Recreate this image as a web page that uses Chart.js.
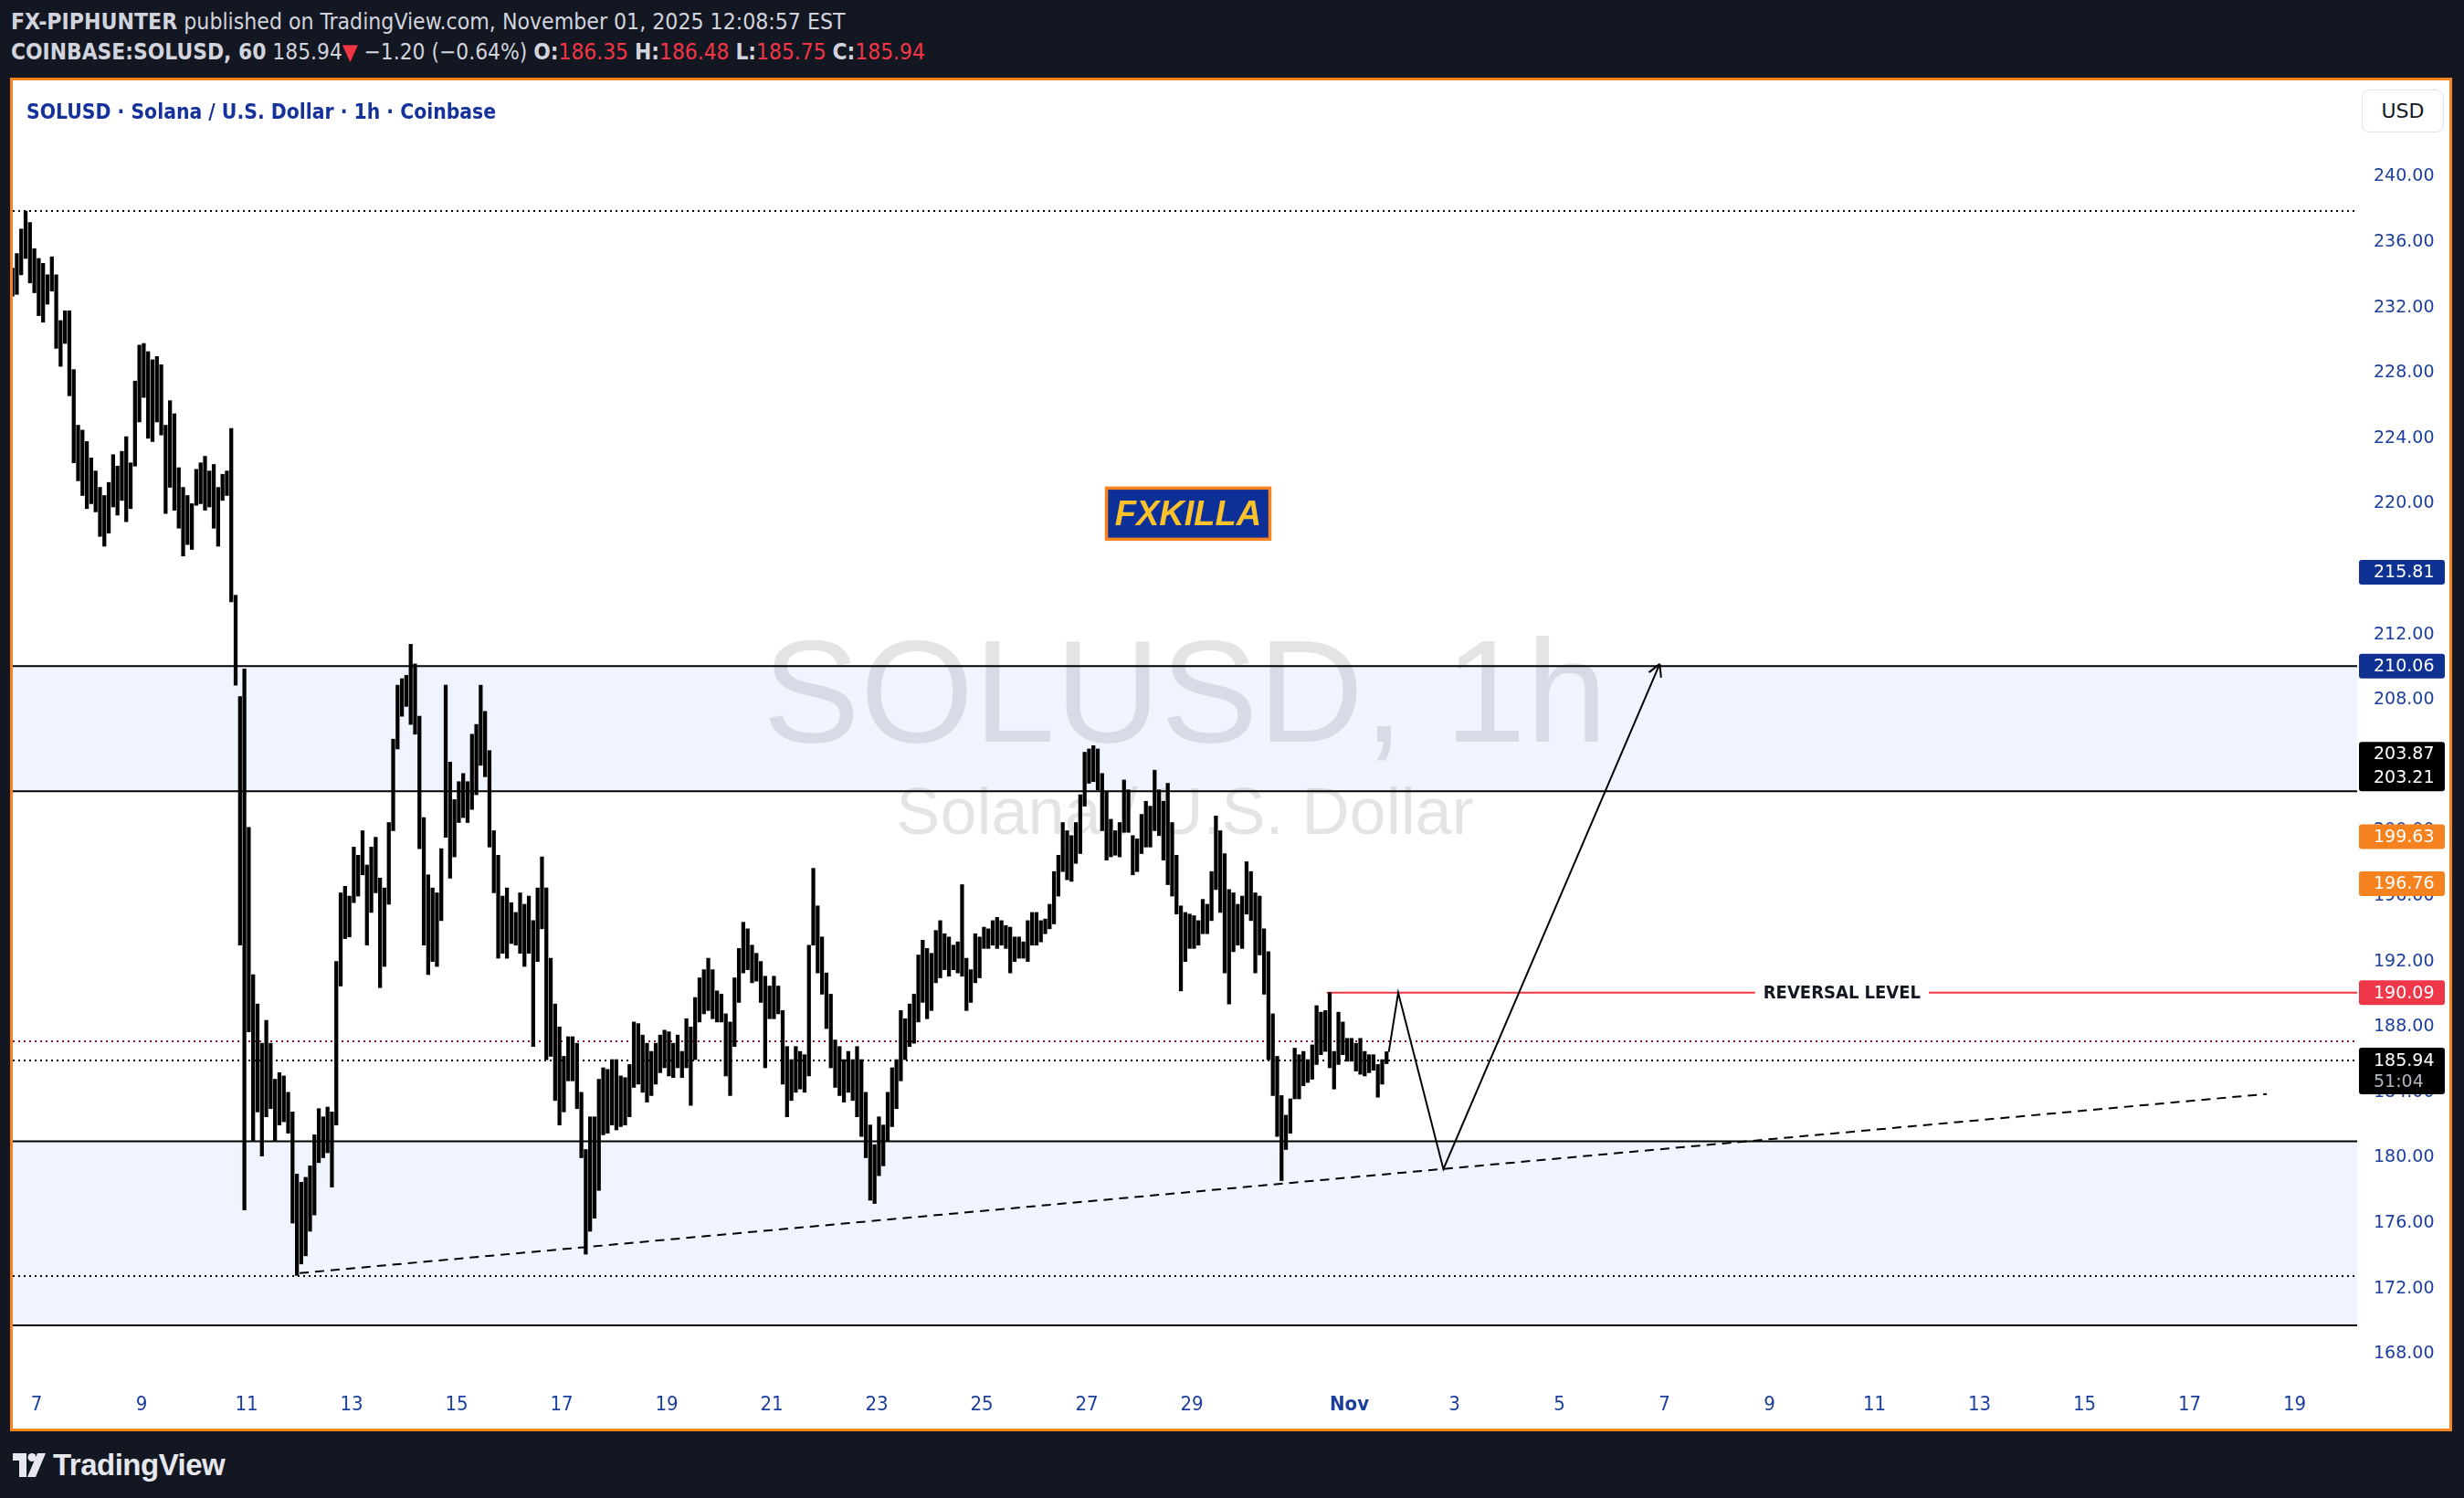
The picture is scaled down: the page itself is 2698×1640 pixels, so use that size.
<!DOCTYPE html>
<html>
<head>
<meta charset="utf-8">
<title>SOLUSD 1h</title>
<script src="https://cdn.jsdelivr.net/npm/chart.js@4.4.1/dist/chart.umd.min.js"></script>
<style>
  html, body { margin: 0; padding: 0; background: #131722; }
  body { width: 2698px; height: 1640px; position: relative; overflow: hidden;
         font-family: "Liberation Sans Narrow", "DejaVu Sans Condensed", "Liberation Sans", sans-serif; }
  .hdr { position: absolute; left: 12px; white-space: nowrap; font-size: 24.3px; line-height: 30px; color: #d1d4dc; }
  .hdr b { font-weight: bold; }
  .red { color: #f23645; }
  #panel { position: absolute; left: 11px; top: 85px; width: 2668px; height: 1476px;
           border: 3px solid #f7841f; background: #fff; }
  #chart { position: absolute; left: 0; top: 0; }
  #title { position: absolute; left: 15px; top: 21px; font-size: 22.7px; font-weight: bold; color: #14329a; white-space: nowrap; }
  #usd { position: absolute; left: 2572px; top: 10px; width: 88px; height: 45px; border: 1px solid #e0e3eb;
         border-radius: 8px; background: #fff; font: 22px "DejaVu Sans", sans-serif; color: #131722;
         text-align: center; line-height: 45px; }
  #logo { position: absolute; left: 14px; top: 1588px; height: 32px; display: flex; align-items: center; }
  #logo span { font: bold 33px "Liberation Sans", sans-serif; color: #e6e8ee; margin-left: 8px; letter-spacing: -0.5px; }
</style>
</head>
<body>
<div class="hdr" style="top:9px; font-size:24.6px"><b>FX-PIPHUNTER</b> published on TradingView.com, November 01, 2025 12:08:57 EST</div>
<div class="hdr" style="top:42px"><b>COINBASE:SOLUSD, 60</b> 185.94<span class="red">▼</span> −1.20 (−0.64%) <b>O:</b><span class="red">186.35</span> <b>H:</b><span class="red">186.48</span> <b>L:</b><span class="red">185.75</span> <b>C:</b><span class="red">185.94</span></div>

<div id="panel">
  <canvas id="chart" width="2668" height="1476"></canvas>
  <div id="title">SOLUSD · Solana / U.S. Dollar · 1h · Coinbase</div>
  <div id="usd">USD</div>
</div>

<div id="logo">
  <svg width="36" height="26" viewBox="0 0 36 26">
    <rect x="0" y="0" width="15" height="8" fill="#e6e8ee"/>
    <rect x="7" y="0" width="8" height="26" fill="#e6e8ee"/>
    <circle cx="21" cy="4.5" r="4.5" fill="#e6e8ee"/>
    <polygon points="27,0 36,0 25,26 16,26" fill="#e6e8ee"/>
  </svg>
  <span>TradingView</span>
</div>

<script>
// ── time axis: days counted from Oct 0, 00:00 UTC (7 = Oct 7, 32 = Nov 1) ──
var xMin = 6.548, xMax = 51.19;
var xTickDays   = [7, 9, 11, 13, 15, 17, 19, 21, 23, 25, 27, 29, 32, 34, 36, 38, 40, 42, 44, 46, 48, 50];
var xTickLabels = ['7','9','11','13','15','17','19','21','23','25','27','29','Nov','3','5','7','9','11','13','15','17','19'];

// ── price axis ──
var yMin = 166.45, yMax = 245.89;
var yTickValues = [168, 172, 176, 180, 184, 188, 192, 196, 200, 204, 208, 212, 216, 220, 224, 228, 232, 236, 240];

// ── SOLUSD bars, 2h each, first bar Oct 6 12:00 UTC ──
var barStartDay = 6.5, barStepDays = 1 / 12;
var highs = [
  234.4, 235.3, 236.8, 237.9, 237.2, 235.6,                                           // Oct 6
  235.0, 234.7, 234.0, 235.1, 234.0, 231.2, 231.8, 231.8, 228.2, 224.8, 224.5, 223.8, // Oct 7
  222.8, 222.0, 221.0, 220.5, 221.3, 223.0, 222.3, 223.2, 224.1, 222.5, 227.5, 229.7, // Oct 8
  229.8, 229.3, 228.8, 229.0, 228.5, 224.8, 226.3, 225.5, 222.2, 221.0, 220.5, 220.0, // Oct 9
  222.1, 222.5, 222.9, 222.0, 222.4, 221.0, 221.8, 222.0, 224.6, 214.4, 208.2, 209.9, // Oct 10
  200.2, 191.2, 189.4, 187.0, 188.4, 187.0, 184.8, 185.2, 185.0, 184.0, 182.8, 179.0, // Oct 11
  178.5, 178.8, 179.5, 181.4, 183.0, 182.5, 183.1, 182.8, 192.0, 196.2, 196.6, 196.0, // Oct 12
  199.0, 198.5, 200.0, 197.9, 199.0, 199.6, 197.1, 196.5, 200.5, 205.6, 208.9, 209.3, // Oct 13
  209.5, 211.4, 210.2, 207.0, 200.8, 197.3, 196.5, 196.2, 198.9, 208.9, 204.2, 201.9, // Oct 14
  203.0, 203.5, 203.0, 205.9, 206.5, 208.9, 207.3, 204.9, 200.0, 198.5, 196.0, 196.5, // Oct 15
  195.6, 195.0, 196.2, 195.5, 196.0, 194.5, 196.5, 198.4, 196.5, 192.2, 189.4, 188.0, // Oct 16
  186.2, 187.4, 187.4, 187.0, 184.0, 180.5, 182.5, 182.5, 184.8, 185.5, 185.4, 186.0, // Oct 17
  186.0, 185.0, 184.9, 185.7, 188.3, 188.2, 187.5, 187.0, 186.5, 187.0, 187.5, 187.8, // Oct 18
  187.7, 187.0, 187.5, 186.5, 188.5, 188.0, 189.8, 191.0, 191.5, 192.2, 191.5, 190.2, // Oct 19
  190.0, 188.8, 188.3, 191.0, 192.8, 194.4, 194.0, 193.0, 192.5, 192.0, 191.1, 190.5, // Oct 20
  191.1, 190.5, 189.0, 186.8, 186.0, 186.8, 186.5, 186.3, 193.0, 197.7, 195.4, 193.5, // Oct 21
  191.3, 190.0, 187.2, 186.8, 186.0, 186.5, 186.0, 186.8, 186.0, 184.0, 182.0, 180.8, // Oct 22
  182.5, 182.0, 184.0, 185.5, 186.0, 189.0, 188.5, 189.4, 190.0, 192.4, 193.3, 192.8, // Oct 23
  192.5, 193.9, 194.5, 193.7, 193.5, 193.0, 193.2, 196.7, 192.2, 191.5, 193.7, 193.5, // Oct 24
  194.1, 194.0, 194.5, 194.7, 194.5, 194.2, 194.1, 193.5, 193.5, 193.2, 194.5, 195.0, // Oct 25
  195.0, 194.5, 194.6, 195.5, 197.5, 198.5, 200.5, 200.0, 199.7, 200.5, 202.2, 204.8, // Oct 26
  205.0, 205.2, 205.0, 203.5, 202.4, 200.7, 200.0, 200.5, 203.1, 202.5, 199.7, 199.5, // Oct 27
  201.0, 201.8, 201.5, 203.7, 202.5, 201.8, 202.9, 200.5, 198.5, 195.4, 195.0, 194.9, // Oct 28
  194.8, 194.5, 195.8, 195.5, 197.5, 200.9, 200.0, 198.6, 196.4, 196.2, 195.5, 196.0, // Oct 29
  198.1, 197.5, 196.2, 196.0, 194.0, 192.6, 188.8, 186.2, 183.8, 182.6, 183.6, 186.7, // Oct 30
  186.3, 186.5, 186.0, 186.9, 189.3, 188.9, 189.0, 190.1, 186.5, 188.9, 188.3, 187.3, // Oct 31
  187.3, 187.0, 187.3, 186.5, 186.3, 186.3, 185.7, 186.0, 186.48                      // Nov 1
];
var lows = [
  232.7, 232.8, 234.0, 235.0, 233.5, 232.9,
  231.5, 231.1, 232.2, 233.0, 229.5, 228.4, 229.8, 226.6, 222.5, 221.4, 220.5, 219.7,
  220.0, 219.5, 218.0, 217.4, 218.2, 219.8, 219.3, 220.2, 218.9, 219.7, 222.3, 225.0,
  226.5, 224.0, 223.8, 225.0, 224.2, 219.4, 221.0, 219.6, 218.5, 216.8, 217.5, 217.2,
  219.9, 220.0, 219.6, 219.8, 218.5, 217.4, 220.2, 220.5, 214.0, 208.9, 193.0, 176.8,
  187.7, 181.0, 182.8, 180.1, 182.5, 183.0, 181.0, 182.0, 182.2, 181.5, 176.0, 172.8,
  173.5, 174.0, 175.5, 176.5, 179.7, 180.0, 180.3, 178.2, 182.0, 190.5, 193.4, 193.5,
  195.6, 196.0, 197.3, 193.0, 195.0, 196.2, 190.4, 191.7, 195.5, 200.0, 205.0, 207.0,
  207.6, 206.5, 205.9, 198.9, 193.0, 191.2, 192.0, 191.7, 194.5, 199.6, 197.1, 198.4,
  200.5, 200.8, 200.5, 201.3, 202.2, 204.0, 203.3, 199.0, 196.2, 192.2, 192.5, 192.2,
  193.1, 193.0, 192.5, 191.7, 192.5, 186.8, 192.0, 194.0, 186.0, 186.2, 183.5, 182.0,
  182.8, 184.7, 184.7, 183.0, 180.0, 174.1, 175.5, 176.3, 178.0, 181.4, 181.5, 182.0,
  181.7, 181.9, 182.0, 182.5, 184.3, 184.5, 184.0, 183.4, 183.8, 184.5, 185.2, 185.5,
  185.0, 184.9, 185.5, 184.9, 185.5, 183.2, 186.0, 188.3, 188.8, 189.0, 188.5, 188.3,
  188.3, 185.0, 183.8, 186.8, 189.5, 191.3, 191.5, 190.7, 190.8, 189.5, 185.5, 188.5,
  188.5, 188.8, 184.5, 182.5, 183.5, 184.0, 184.2, 184.0, 185.0, 193.0, 191.3, 190.0,
  187.9, 185.5, 184.3, 183.8, 183.4, 184.0, 183.5, 182.5, 181.3, 180.0, 177.4, 177.2,
  178.9, 179.5, 181.0, 181.9, 183.0, 184.7, 186.0, 186.8, 187.0, 188.3, 189.5, 188.5,
  189.0, 190.7, 191.0, 191.5, 191.1, 191.5, 191.3, 191.1, 189.0, 189.5, 190.7, 191.0,
  192.8, 192.8, 193.0, 192.8, 193.0, 192.8, 191.3, 192.0, 192.2, 192.2, 192.0, 193.0,
  193.0, 193.2, 193.7, 194.0, 194.3, 196.0, 197.5, 197.0, 196.9, 198.0, 198.6, 201.5,
  202.9, 203.0, 202.5, 200.0, 198.2, 198.4, 198.5, 198.4, 199.9, 199.9, 197.3, 197.5,
  198.6, 199.0, 199.0, 200.0, 199.7, 198.2, 196.7, 196.0, 194.9, 190.2, 192.0, 192.8,
  192.8, 193.0, 193.7, 193.7, 194.5, 196.4, 195.0, 191.3, 189.4, 192.6, 193.0, 192.8,
  194.9, 194.5, 191.3, 192.4, 190.0, 186.0, 183.8, 181.3, 178.6, 180.5, 181.5, 183.6,
  183.6, 184.4, 184.6, 184.8, 185.7, 186.3, 186.5, 185.5, 184.2, 185.7, 186.3, 185.9,
  185.9, 185.3, 185.1, 185.0, 185.2, 185.35, 183.7, 184.5, 185.75
];

// ── drawings ──
var zoneTops    = [210.06, 181.0];
var zoneBottoms = [202.41, 169.75];
var dottedLevels = [237.92, 172.74, 185.94];
var prevClose = 187.14;
var reversalPrice = 190.09, reversalStartDay = 31.57;
var trendDays   = [12.01, 49.47];
var trendPrices = [172.94, 183.9];
var pathDays    = [32.75, 32.93, 33.79, 37.91];
var pathPrices  = [186.47, 190.09, 179.3, 210.2];
var badgeDay = 28.93, badgePrice = 219.39, badgeText = 'FXKILLA';
var watermark = ['SOLUSD, 1h', 'Solana / U.S. Dollar'];

// ── right-axis price labels ──
var axisLabelPrices = [215.81, 210.06, 199.63, 196.76, 190.09];
var axisLabelColors = ['#0e3192', '#0e3192', '#f5821f', '#f5821f', '#f0374a'];
var stackLabels = ['203.87', '203.21'];
var lastPrice = 185.94, countdown = '51:04';

var axisBlue = '#1c3f9e';

var bars = highs.map(function (h, i) {
    return { x: barStartDay + i * barStepDays + barStepDays / 2, y: [lows[i], h] };
});

var drawings = {
    id: 'drawings',
    beforeDatasetsDraw: function (chart) {
        var ctx = chart.ctx, a = chart.chartArea, x = chart.scales.x, y = chart.scales.y;
        ctx.save();
        ctx.beginPath();
        ctx.rect(a.left, a.top, a.right - a.left, a.bottom - a.top);
        ctx.clip();

        // watermark (neutral grey, under the zone fill)
        var cx = (a.left + a.right) / 2, cy = (a.top + a.bottom) / 2;
        ctx.fillStyle = 'rgba(0,0,0,0.105)';
        ctx.textAlign = 'center';
        ctx.textBaseline = 'alphabetic';
        ctx.font = '160px "Liberation Sans", Arial, sans-serif';
        ctx.fillText(watermark[0], cx, cy + 13);
        ctx.font = '72px "Liberation Sans", Arial, sans-serif';
        ctx.fillText(watermark[1], cx, cy + 114);

        // zones
        zoneTops.forEach(function (top, i) {
            var y0 = y.getPixelForValue(top), y1 = y.getPixelForValue(zoneBottoms[i]);
            ctx.fillStyle = 'rgba(41,98,255,0.07)';
            ctx.fillRect(a.left, y0, a.right - a.left, y1 - y0);
            ctx.strokeStyle = '#000';
            ctx.lineWidth = 2;
            ctx.setLineDash([]);
            [y0, y1].forEach(function (yy) {
                ctx.beginPath(); ctx.moveTo(a.left, yy); ctx.lineTo(a.right, yy); ctx.stroke();
            });
        });

        // dotted levels
        ctx.lineWidth = 2;
        ctx.setLineDash([2, 4]);
        dottedLevels.concat([prevClose]).forEach(function (p, i) {
            var yy = Math.round(y.getPixelForValue(p));
            ctx.strokeStyle = i === dottedLevels.length ? '#8a1446' : '#000';
            ctx.beginPath(); ctx.moveTo(a.left, yy); ctx.lineTo(a.right, yy); ctx.stroke();
        });
        ctx.setLineDash([]);

        // reversal level with text
        var ry = y.getPixelForValue(reversalPrice);
        var rx0 = x.getPixelForValue(reversalStartDay);
        var mid = (rx0 + a.right) / 2;
        ctx.font = 'bold 20px "Liberation Sans Narrow", "DejaVu Sans Condensed", sans-serif';
        var tw = ctx.measureText('REVERSAL LEVEL').width;
        ctx.strokeStyle = '#f23645';
        ctx.lineWidth = 2;
        ctx.beginPath();
        ctx.moveTo(rx0, ry); ctx.lineTo(mid - tw / 2 - 9, ry);
        ctx.moveTo(mid + tw / 2 + 9, ry); ctx.lineTo(a.right, ry);
        ctx.stroke();
        ctx.fillStyle = '#131722';
        ctx.textAlign = 'center';
        ctx.textBaseline = 'middle';
        ctx.fillText('REVERSAL LEVEL', mid, ry + 1);
        ctx.restore();
    },
    afterDatasetsDraw: function (chart) {
        var ctx = chart.ctx, x = chart.scales.x, y = chart.scales.y;
        ctx.save();
        // arrow head on projection
        var n = pathDays.length;
        var tx = x.getPixelForValue(pathDays[n - 1]), ty = y.getPixelForValue(pathPrices[n - 1]);
        var px = x.getPixelForValue(pathDays[n - 2]), py = y.getPixelForValue(pathPrices[n - 2]);
        var ang = Math.atan2(ty - py, tx - px);
        ctx.strokeStyle = '#000';
        ctx.lineWidth = 2;
        ctx.beginPath();
        [0.5, -0.5].forEach(function (d) {
            ctx.moveTo(tx, ty);
            ctx.lineTo(tx - 15 * Math.cos(ang + d), ty - 15 * Math.sin(ang + d));
        });
        ctx.stroke();

        // FXKILLA badge
        var bx = x.getPixelForValue(badgeDay), by = y.getPixelForValue(badgePrice);
        var bw = 179, bh = 56;
        ctx.fillStyle = '#0d2f98';
        ctx.fillRect(bx - bw / 2, by - bh / 2, bw, bh);
        ctx.strokeStyle = '#f7841f';
        ctx.lineWidth = 3.5;
        ctx.strokeRect(bx - bw / 2, by - bh / 2, bw, bh);
        ctx.fillStyle = '#f9c22b';
        ctx.font = 'italic bold 38px "Liberation Sans", Arial, sans-serif';
        ctx.textAlign = 'center';
        ctx.textBaseline = 'middle';
        ctx.fillText(badgeText, bx, by + 2);
        ctx.restore();
    },
    afterDraw: function (chart) {
        var ctx = chart.ctx, a = chart.chartArea, y = chart.scales.y;
        var left = a.right + 2, w = 94, tx = a.right + 18;
        ctx.save();
        ctx.font = '19px "DejaVu Sans", sans-serif';
        ctx.textAlign = 'left';
        ctx.textBaseline = 'middle';

        function box(top, h, bg) {
            ctx.fillStyle = bg;
            ctx.beginPath();
            ctx.roundRect(left, top, w, h, 3);
            ctx.fill();
        }
        axisLabelPrices.forEach(function (p, i) {
            var yy = y.getPixelForValue(p);
            box(yy - 13.5, 27, axisLabelColors[i]);
            ctx.fillStyle = '#fff';
            ctx.fillText(p.toFixed(2), tx, yy + 1);
        });

        // stacked black pair sitting on the upper zone bottom
        var zb = y.getPixelForValue(zoneBottoms[0]);
        box(zb - 54, 54, '#000');
        ctx.fillStyle = '#fff';
        ctx.fillText(stackLabels[0], tx, zb - 40);
        ctx.fillText(stackLabels[1], tx, zb - 14);

        // last price with countdown
        var ly = y.getPixelForValue(lastPrice);
        box(ly - 14, 51, '#000');
        ctx.fillStyle = '#fff';
        ctx.fillText(lastPrice.toFixed(2), tx, ly + 1);
        ctx.fillStyle = '#b2b5be';
        ctx.fillText(countdown, tx, ly + 24);
        ctx.restore();
    }
};

new Chart(document.getElementById('chart'), {
    data: {
        datasets: [
            {
                type: 'bar',
                data: bars,
                backgroundColor: '#000',
                borderWidth: 0,
                barThickness: 3.6,
                order: 3
            },
            {
                type: 'line',
                data: trendDays.map(function (d, i) { return { x: d, y: trendPrices[i] }; }),
                borderColor: '#000',
                borderWidth: 2,
                borderDash: [10, 7],
                pointRadius: 0,
                fill: false,
                order: 2
            },
            {
                type: 'line',
                data: pathDays.map(function (d, i) { return { x: d, y: pathPrices[i] }; }),
                borderColor: '#000',
                borderWidth: 2,
                pointRadius: 0,
                tension: 0,
                fill: false,
                order: 1
            }
        ]
    },
    options: {
        responsive: false,
        animation: false,
        devicePixelRatio: 1,
        layout: { padding: 0, autoPadding: false },
        plugins: { legend: { display: false }, tooltip: { enabled: false } },
        scales: {
            x: {
                type: 'linear',
                min: xMin,
                max: xMax,
                offset: false,
                grid: { display: false, drawTicks: false },
                border: { display: false },
                afterBuildTicks: function (s) { s.ticks = xTickDays.map(function (v) { return { value: v }; }); },
                afterFit: function (s) { s.height = 54; s.paddingLeft = 0; s.paddingRight = 0; },
                ticks: {
                    autoSkip: false,
                    maxRotation: 0,
                    padding: 15,
                    color: axisBlue,
                    font: function (c) {
                        return {
                            family: '"Liberation Sans Narrow", "DejaVu Sans Condensed", sans-serif',
                            size: 22,
                            weight: c.tick && c.tick.value === 32 ? 'bold' : 'normal'
                        };
                    },
                    callback: function (v, i) { return xTickLabels[i]; }
                }
            },
            y: {
                type: 'linear',
                position: 'right',
                min: yMin,
                max: yMax,
                grid: { display: false, drawTicks: false },
                border: { display: false },
                afterBuildTicks: function (s) { s.ticks = yTickValues.map(function (v) { return { value: v }; }); },
                afterFit: function (s) { s.width = 101; s.paddingTop = 0; s.paddingBottom = 0; },
                ticks: {
                    padding: 18,
                    color: axisBlue,
                    font: { family: '"DejaVu Sans", sans-serif', size: 19 },
                    callback: function (v) { return v.toFixed(2); }
                }
            }
        }
    },
    plugins: [drawings]
});
</script>
</body>
</html>
